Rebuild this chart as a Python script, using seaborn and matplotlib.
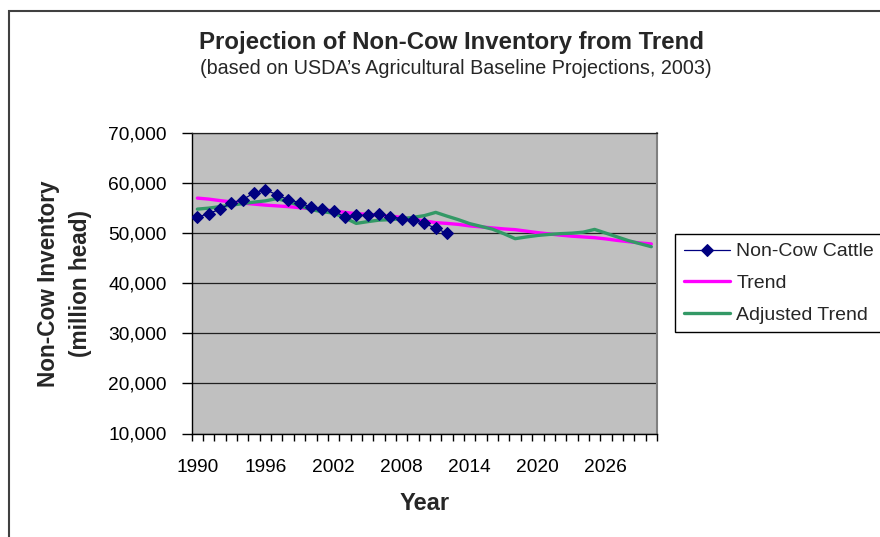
import matplotlib
matplotlib.use("Agg")
import matplotlib.pyplot as plt
import matplotlib.ticker as mticker
from matplotlib.patches import Rectangle
import seaborn as sns
import pandas as pd

# Annual inventory, thousand head
years = list(range(1990, 2031))
cattle_years = list(range(1990, 2013))
non_cow_cattle = [53200, 53900, 54800, 56050, 56700, 58050, 58700, 57650, 56700, 56100,
                  55150, 54800, 54500, 53200, 53550, 53550, 53900, 53250, 52900, 52600,
                  51950, 51000, 49950]
trend = [57000, 56800, 56500, 56250, 56000, 55800, 55600, 55450, 55300, 55100,
         54900, 54700, 54450, 54150, 53900, 53750, 53600, 53400, 53150, 52800,
         52450, 52100, 51950, 51750, 51450, 51250, 51050, 50850, 50700, 50400,
         50100, 49850, 49600, 49400, 49250, 49100, 48850, 48550, 48300, 48050,
         47850]
adjusted_trend = [54800, 55000, 55300, 55600, 55900, 56200, 56450, 56900, 56300, 55500,
                  54700, 54300, 54000, 53050, 51950, 52300, 52600, 52700, 52900, 53150,
                  53500, 54150, 53400, 52700, 51900, 51350, 50800, 49900, 48900, 49250,
                  49550, 49750, 49900, 50000, 50200, 50750, 50000, 49250, 48500, 47900,
                  47300]
tick_years = [1990, 1996, 2002, 2008, 2014, 2020, 2026]
y_ticks = [10000, 20000, 30000, 40000, 50000, 60000, 70000]

sns.set_style("ticks")
plt.rcParams["font.family"] = ["Liberation Sans", "DejaVu Sans"]

W, H = 880, 537
fig = plt.figure(figsize=(W / 100, H / 100), dpi=100)
ax = fig.add_axes([191.7 / W, 1 - 433.5 / H, 465.3 / W, 300.5 / H])
ax.set_facecolor("#C0C0C0")

df_obs = pd.DataFrame({"Year": cattle_years, "Inventory": non_cow_cattle})
df_proj = pd.DataFrame({"Year": years, "Trend": trend, "Adjusted Trend": adjusted_trend})

sns.lineplot(data=df_proj, x="Year", y="Trend", color="#FF00FF", linewidth=2.4,
             label="Trend", ax=ax, zorder=3)
sns.lineplot(data=df_proj, x="Year", y="Adjusted Trend", color="#339966", linewidth=2.4,
             label="Adjusted Trend", ax=ax, zorder=4)
sns.lineplot(data=df_obs, x="Year", y="Inventory", color="#000080", linewidth=0.9,
             marker="D", markersize=6.3, markeredgecolor="#000080",
             label="Non-Cow Cattle", ax=ax, zorder=5)

ax.set_xlim(1989.5, 2030.5)
ax.set_ylim(10000, 70000)
ax.set_yticks(y_ticks)
ax.yaxis.set_major_formatter(mticker.StrMethodFormatter("{x:,.0f}"))
ax.set_xticks(tick_years)
ax.set_xticks([1989.5 + k for k in range(42)], minor=True)
ax.tick_params(axis="x", which="major", length=0, pad=18, labelsize=13.8, colors="black")
ax.tick_params(axis="x", which="minor", length=5, width=1, color="black", direction="out")
ax.tick_params(axis="y", length=7, width=1, pad=11, labelsize=13.8, direction="out",
               colors="black")
ax.grid(axis="y", color="#202020", linewidth=0.9)
ax.grid(axis="x", visible=False)
ax.set_axisbelow(True)

for side in ("left", "bottom"):
    ax.spines[side].set_color("black")
    ax.spines[side].set_linewidth(1.0)
ax.spines["top"].set_color("#202020")
ax.spines["top"].set_linewidth(0.9)
ax.spines["right"].set_color("#808080")
ax.spines["right"].set_linewidth(1.5)

ax.set_xlabel("Year", fontsize=17, fontweight="bold", va="center")
ax.xaxis.set_label_coords(0.5, (433.5 - 504) / 300.5)
ax.set_ylabel("Non-Cow Inventory\n(million head)", fontsize=16.3, fontweight="bold",
              va="center", linespacing=1.55)
ax.yaxis.set_label_coords((64.5 - 191.7) / 465.3, 0.5)

fig.text(451.5 / W, 1 - 42 / H, "Projection of Non-Cow Inventory from Trend",
         ha="center", va="center", fontsize=17.3, fontweight="bold")
fig.text(456 / W, 1 - 68 / H, "(based on USDA\u2019s Agricultural Baseline Projections, 2003)",
         ha="center", va="center", fontsize=14.2)

handles, labels = ax.get_legend_handles_labels()
order = [labels.index(n) for n in ("Non-Cow Cattle", "Trend", "Adjusted Trend")]
leg = ax.legend([handles[i] for i in order], [labels[i] for i in order],
                loc="upper left", bbox_to_anchor=(675 / W, 1 - 234 / H),
                bbox_transform=fig.transFigure, frameon=True, fancybox=False,
                edgecolor="black", framealpha=1, fontsize=14, handlelength=2.4,
                handletextpad=0.3, labelspacing=0.72, borderpad=0.45,
                borderaxespad=0, numpoints=1)
leg.get_frame().set_linewidth(1.0)

# outer chart border
fig.patches.append(Rectangle((9 / W, -0.1), 1.2, 1.1 - 11 / H, transform=fig.transFigure,
                             fill=False, edgecolor="#404040", linewidth=1.5))

fig.savefig("out.png", dpi=100)
